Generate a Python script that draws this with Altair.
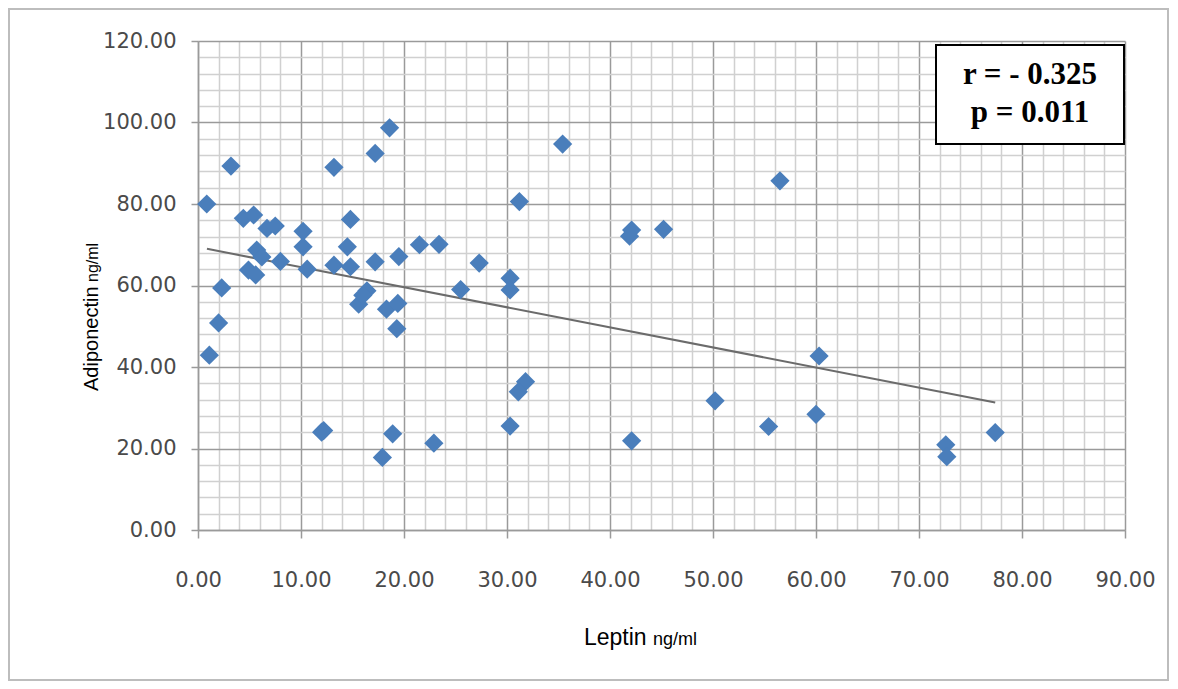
import altair as alt
import pandas as pd

# Scatter data (Leptin ng/ml vs Adiponectin ng/ml)
leptin = [0.85, 1.1, 2.0, 2.3, 3.2, 4.4, 5.4, 6.7, 7.5, 10.2, 10.2, 5.7, 6.2, 8.0,
          10.6, 4.9, 5.6, 13.2, 17.2, 18.6, 14.8, 14.5, 13.2, 14.8, 17.2, 19.5,
          21.5, 23.4, 27.3, 16.4, 15.6, 18.3, 19.4, 19.3, 25.5, 30.3, 30.3, 12.2,
          18.9, 17.9, 22.9, 31.2, 35.4, 42.1, 41.9, 45.2, 56.5, 31.8, 31.1, 30.3,
          42.1, 50.2, 55.4, 60.3, 60.0, 72.6, 72.7, 77.4, 12.0, 16.0]
adiponectin = [80.0, 42.9, 50.8, 59.4, 89.3, 76.5, 77.3, 74.0, 74.6, 73.3, 69.5,
               68.7, 67.0, 65.9, 64.0, 63.8, 62.6, 89.0, 92.4, 98.7, 76.2, 69.5,
               65.0, 64.6, 65.8, 67.1, 70.0, 70.1, 65.5, 58.7, 55.4, 54.2, 55.6,
               49.4, 59.0, 61.8, 58.9, 24.4, 23.6, 17.8, 21.3, 80.6, 94.7, 73.6,
               72.1, 73.8, 85.7, 36.4, 33.9, 25.5, 21.9, 31.7, 25.4, 42.7, 28.4,
               20.9, 18.0, 23.9, 24.0, 57.6]

# Linear trend line endpoints
trend_x = [0.87, 77.4]
trend_y = [69.0, 31.3]

annotation_lines = ["r = - 0.325", "p = 0.011"]
x_title = ["Leptin", "ng/ml"]
y_title = ["Adiponectin", "ng/ml"]

W, H = 927, 489

pts = pd.DataFrame({"Leptin": leptin, "Adiponectin": adiponectin})
trend = pd.DataFrame({"Leptin": trend_x, "Adiponectin": trend_y})
one = pd.DataFrame({"a": [0]})

major_x = "datum.value % 10 === 0"
major_y = "datum.value % 20 === 0"

x_axis = alt.Axis(
    values=list(range(0, 91, 2)), tickCount=200,
    labelExpr=f"{major_x} ? format(datum.value, '.2f') : ''",
    gridColor={"condition": {"test": major_x, "value": "#9a9a9a"}, "value": "#d0d0d0"},
    gridWidth=1.5,
    tickOpacity={"condition": {"test": major_x, "value": 1}, "value": 0},
    tickSize=8, tickColor="#9a9a9a", tickWidth=1.5,
    domainColor="#9a9a9a", domainWidth=1.5,
    labelFont="DejaVu Sans", labelFontSize=21, labelColor="#4a4a4a",
    labelPadding=31, labelOverlap=False, labelFlush=False, title=None,
)
y_axis = alt.Axis(
    values=list(range(0, 121, 4)), tickCount=200,
    labelExpr=f"{major_y} ? format(datum.value, '.2f') : ''",
    gridColor={"condition": {"test": major_y, "value": "#9a9a9a"}, "value": "#d0d0d0"},
    gridWidth=1.5,
    tickOpacity={"condition": {"test": major_y, "value": 1}, "value": 0},
    tickSize=7, tickColor="#9a9a9a", tickWidth=1.5,
    domainColor="#9a9a9a", domainWidth=1.5,
    labelFont="DejaVu Sans", labelFontSize=21, labelColor="#4a4a4a",
    labelPadding=15, labelOverlap=False, labelFlush=False, title=None,
)

xs = alt.Scale(domain=[0, 90], nice=False, zero=False)
ys = alt.Scale(domain=[0, 120], nice=False, zero=False)

points = alt.Chart(pts).mark_point(
    shape="diamond", filled=True, size=370, color="#4a7ebb", opacity=1
).encode(
    x=alt.X("Leptin:Q", scale=xs, axis=x_axis),
    y=alt.Y("Adiponectin:Q", scale=ys, axis=y_axis),
)

line = alt.Chart(trend).mark_line(color="#6b6b6b", strokeWidth=2).encode(
    x=alt.X("Leptin:Q", scale=xs),
    y=alt.Y("Adiponectin:Q", scale=ys),
)

box = alt.Chart(one).mark_rect(fill="white", stroke="black", strokeWidth=2).encode(
    x=alt.value(738), x2=alt.value(926), y=alt.value(4), y2=alt.value(103)
)
box_t1 = alt.Chart(one).mark_text(
    text=annotation_lines[0], font="Liberation Serif", fontWeight="bold",
    fontSize=31, color="black", align="center", baseline="middle"
).encode(x=alt.value(832), y=alt.value(34))
box_t2 = alt.Chart(one).mark_text(
    text=annotation_lines[1], font="Liberation Serif", fontWeight="bold",
    fontSize=31, color="black", align="center", baseline="middle"
).encode(x=alt.value(832), y=alt.value(72))

xt1 = alt.Chart(one).mark_text(
    text=x_title[0], font="Liberation Sans", fontSize=23, color="black",
    align="left", baseline="alphabetic"
).encode(x=alt.value(386), y=alt.value(604))
xt2 = alt.Chart(one).mark_text(
    text=x_title[1], font="Liberation Sans", fontSize=18, color="black",
    align="left", baseline="alphabetic"
).encode(x=alt.value(455), y=alt.value(604))

yt1 = alt.Chart(one).mark_text(
    text=y_title[0], font="Liberation Sans", fontSize=20, color="black",
    align="left", baseline="alphabetic", angle=270
).encode(x=alt.value(-100), y=alt.value(350))
yt2 = alt.Chart(one).mark_text(
    text=y_title[1], font="Liberation Sans", fontSize=16, color="black",
    align="left", baseline="alphabetic", angle=270
).encode(x=alt.value(-100), y=alt.value(241))

frame = alt.Chart(one).mark_rect(
    fill=None, stroke="#bdbdbd", strokeWidth=2, clip=False
).encode(x=alt.value(-189), x2=alt.value(970), y=alt.value(-32), y2=alt.value(639))

chart = alt.layer(
    frame, line, points, box, box_t1, box_t2, xt1, xt2, yt1, yt2
).properties(
    width=W, height=H,
    autosize=alt.AutoSizeParams(type="none"),
    padding={"left": 190, "top": 33, "right": 45, "bottom": 151},
    background="white",
).configure_view(stroke=None)

chart.save("out.html", embed_options={"renderer": "svg", "actions": False})
